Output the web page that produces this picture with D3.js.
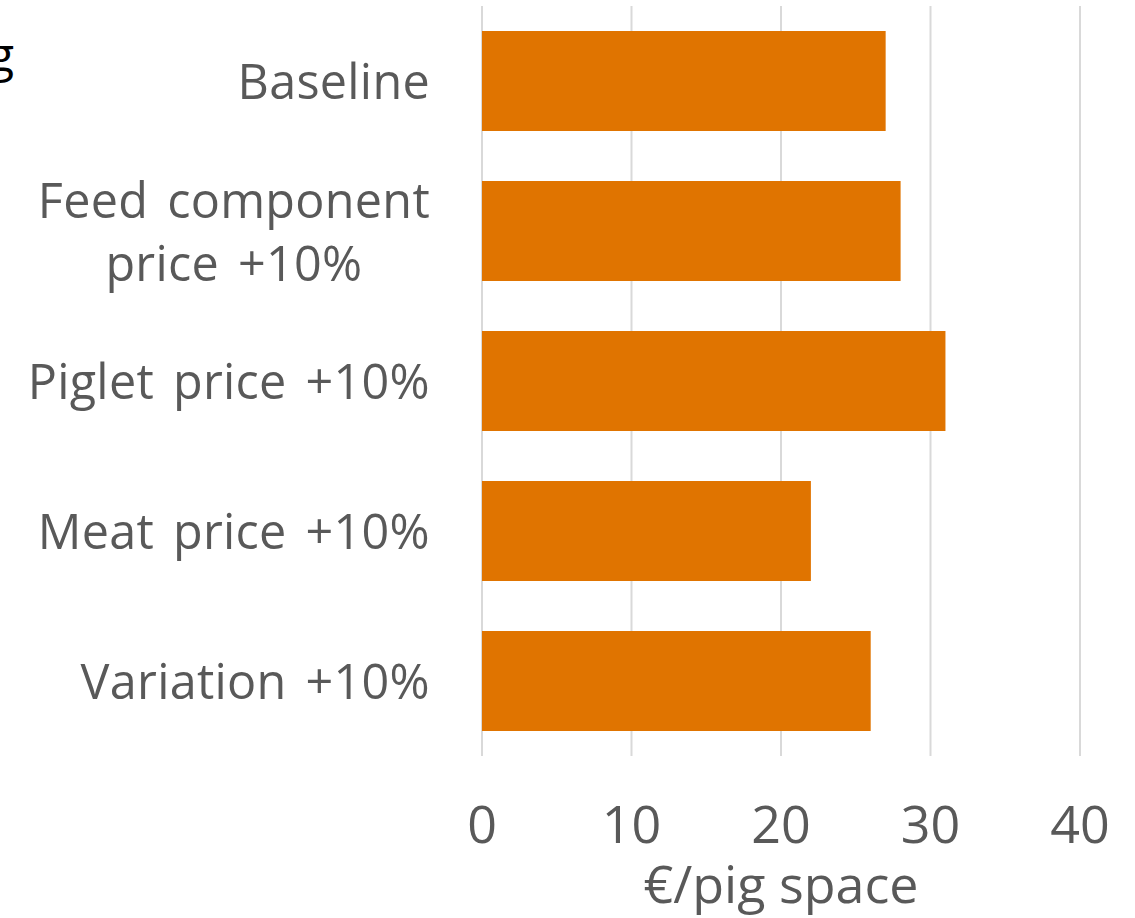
<!DOCTYPE html>
<html>
<head>
<meta charset="utf-8">
<script src="https://cdn.jsdelivr.net/npm/d3@7"></script>
<style>
  html, body { margin: 0; padding: 0; background: #fff; }
  svg { display: block; }
  text { font-family: "Open Sans", "Noto Sans", sans-serif; fill: #595959; }
</style>
</head>
<body>
<svg id="chart" width="1135" height="918"></svg>
<script>
// Scenario labels (each row may wrap onto two lines)
const categories = [
  ["Baseline"],
  ["Feed component", "price +10%"],
  ["Piglet price +10%"],
  ["Meat price +10%"],
  ["Variation +10%"]
];
const values = [27, 28, 31, 22, 26];
const tickValues = [0, 10, 20, 30, 40];
const axisTitle = "€/pig space";
const titleFragment = "g";

const svg = d3.select("#chart");

const x = d3.scaleLinear().domain([0, 40]).range([482, 1080]);
const y = d3.scaleBand()
  .domain(d3.range(categories.length))
  .range([6, 756])
  .paddingInner(1 / 3)
  .paddingOuter(1 / 6);

// vertical gridlines
svg.append("g")
  .selectAll("line")
  .data(tickValues)
  .join("line")
  .attr("x1", d => x(d)).attr("x2", d => x(d))
  .attr("y1", 6).attr("y2", 756)
  .attr("stroke", "#d9d9d9")
  .attr("stroke-width", 2);

// bars
svg.append("g")
  .selectAll("rect")
  .data(values)
  .join("rect")
  .attr("x", x(0))
  .attr("y", (d, i) => y(i))
  .attr("width", d => x(d) - x(0))
  .attr("height", y.bandwidth())
  .attr("fill", "#e07400");

// category labels
const labelSize = 48.5;
const lineGap = 63;
const labels = svg.append("g")
  .selectAll("text")
  .data(categories)
  .join("text")
  .attr("font-size", labelSize)
  .attr("word-spacing", 6)
  .attr("letter-spacing", 0.3)
  .attr("text-anchor", "middle");
labels.each(function (lines, i) {
  const cy = y(i) + y.bandwidth() / 2;
  const t = d3.select(this);
  const n = lines.length;
  lines.forEach((ln, k) => {
    t.append("tspan")
      .attr("x", 0)
      .attr("y", cy + (k - (n - 1) / 2) * lineGap + labelSize * 0.38)
      .text(ln);
  });
});
// right-align each block, centering wrapped lines against one another
labels.each(function () {
  const t = d3.select(this);
  const box = this.getBBox();
  const cx = 430 - box.width / 2;
  t.selectAll("tspan").attr("x", cx);
});

// x tick labels
svg.append("g")
  .selectAll("text")
  .data(tickValues)
  .join("text")
  .attr("x", d => x(d))
  .attr("y", 843)
  .attr("font-size", 52)
  .attr("text-anchor", "middle")
  .text(d => d);

// axis title
svg.append("text")
  .attr("x", x(20))
  .attr("y", 903)
  .attr("font-size", 52)
  .attr("text-anchor", "middle")
  .text(axisTitle);

// clipped chart-title fragment at the top-left edge
svg.append("text")
  .attr("x", 14)
  .attr("y", 72)
  .attr("font-size", 48)
  .attr("text-anchor", "end")
  .style("fill", "#000")
  .text(titleFragment);
</script>
</body>
</html>
